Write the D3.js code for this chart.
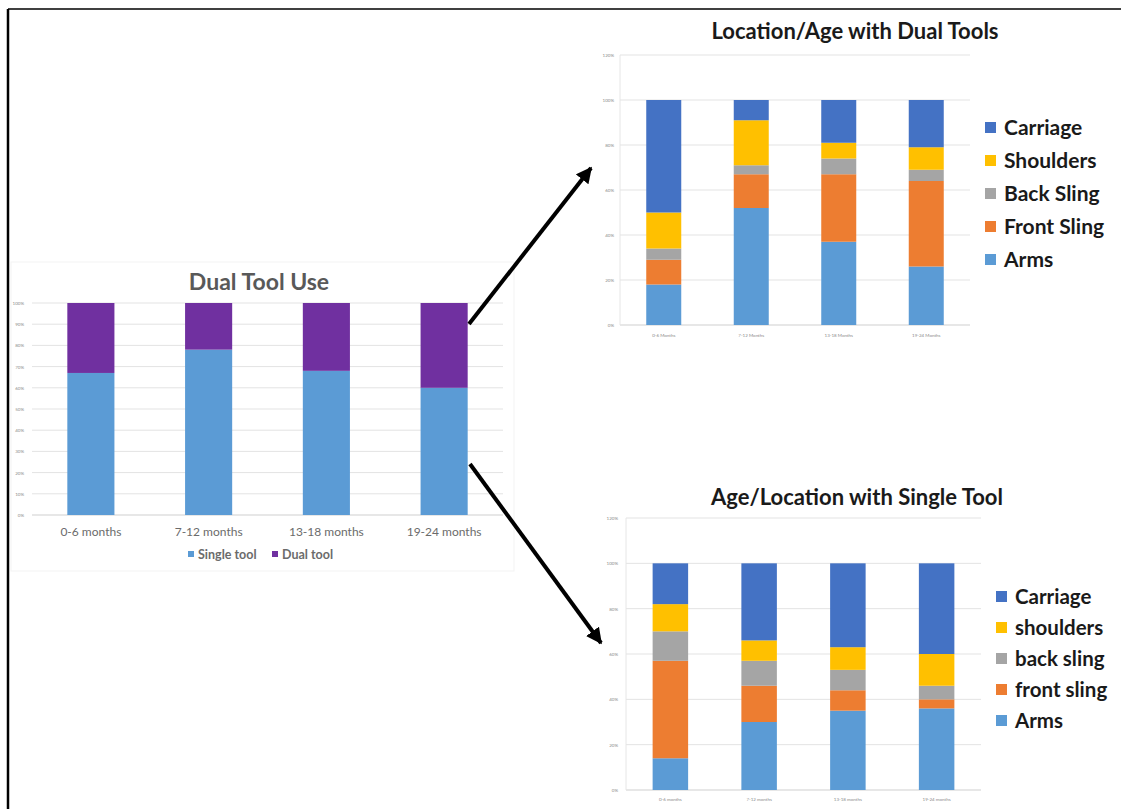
<!DOCTYPE html>
<html>
<head>
<meta charset="utf-8">
<script src="https://cdn.jsdelivr.net/npm/d3@7"></script>
<style>
  html, body { margin: 0; padding: 0; background: #fff; }
  svg { display: block; font-family: Lato, "Open Sans", sans-serif; }
</style>
</head>
<body>
<svg id="fig" width="1121" height="809"></svg>
<script>
// ---- Dual tool use by age ----
const ageGroups = ["0-6 months", "7-12 months", "13-18 months", "19-24 months"];
const singleToolShare = [67, 78, 68, 60];
const dualToolShare = [33, 22, 32, 40];
const dualUseTicks = [0, 10, 20, 30, 40, 50, 60, 70, 80, 90, 100];

// ---- Location by age, dual tools ----
const locationKeys = ["Arms", "Front Sling", "Back Sling", "Shoulders", "Carriage"];
const dualAgeLabels = ["0-6 Months", "7-12 Months", "13-18 Months", "19-24 Months"];
const dualArms = [18, 52, 37, 26];
const dualFrontSling = [11, 15, 30, 38];
const dualBackSling = [5, 4, 7, 5];
const dualShoulders = [16, 20, 7, 10];
const dualCarriage = [50, 9, 19, 21];
const dualLegendLabels = ["Carriage", "Shoulders", "Back Sling", "Front Sling", "Arms"];

// ---- Location by age, single tool ----
const singleAgeLabels = ["0-6 months", "7-12 months", "13-18 months", "19-24 months"];
const singleArms = [14, 30, 35, 36];
const singleFrontSling = [43, 16, 9, 4];
const singleBackSling = [13, 11, 9, 6];
const singleShoulders = [12, 9, 10, 14];
const singleCarriage = [18, 34, 37, 40];
const singleLegendLabels = ["Carriage", "shoulders", "back sling", "front sling", "Arms"];

const locationTicks = [0, 20, 40, 60, 80, 100, 120];

const locationColors = {
  "Arms": "#5B9BD5",
  "Front Sling": "#ED7D31",
  "Back Sling": "#A5A5A5",
  "Shoulders": "#FFC000",
  "Carriage": "#4472C4"
};

const svg = d3.select("#fig");

// page frame
svg.append("line").attr("x1", 8).attr("x2", 1121).attr("y1", 9).attr("y2", 9)
  .attr("stroke", "#000").attr("stroke-width", 1.5);
svg.append("line").attr("x1", 8).attr("x2", 8).attr("y1", 9).attr("y2", 809)
  .attr("stroke", "#000").attr("stroke-width", 2.5);

function buildRows(labels, cols) {
  return labels.map((lab, i) => {
    const row = { label: lab };
    locationKeys.forEach((k, j) => row[k] = cols[j][i]);
    return row;
  });
}

function stackedChart(opts) {
  const g = svg.append("g");
  const x = d3.scaleBand().domain(opts.labels).range([opts.left, opts.right]).paddingInner(opts.padIn).paddingOuter(opts.padOut);
  const y = d3.scaleLinear().domain([0, opts.max]).range([opts.bottom, opts.top]);

  // gridlines
  g.append("g").selectAll("line").data(opts.ticks).join("line")
    .attr("x1", opts.left).attr("x2", opts.gridRight)
    .attr("y1", d => y(d)).attr("y2", d => y(d))
    .attr("stroke", d => d === 0 ? "#cfcfcf" : "#e3e3e3").attr("stroke-width", 1);

  if (opts.vAxis) {
    g.append("line").attr("x1", opts.left).attr("x2", opts.left)
      .attr("y1", y(opts.max)).attr("y2", y(0)).attr("stroke", "#e6e6e6");
  }

  // tick labels
  const yAxis = d3.axisLeft(y).tickValues(opts.ticks).tickFormat(d => d + "%").tickSize(0).tickPadding(opts.tickPad);
  const ya = g.append("g").attr("transform", `translate(${opts.left},0)`).call(yAxis);
  ya.select(".domain").remove();
  ya.selectAll("text").attr("font-size", opts.tickFont).attr("fill", "#8a8a8a").attr("font-family", "Lato, sans-serif");

  // bars
  const stack = d3.stack().keys(opts.keys)(opts.rows);
  g.append("g").selectAll("g").data(stack).join("g")
    .attr("fill", d => opts.colors[d.key])
    .selectAll("rect").data(d => d).join("rect")
    .attr("x", d => x(d.data.label))
    .attr("width", x.bandwidth())
    .attr("y", d => y(d[1]))
    .attr("height", d => y(d[0]) - y(d[1]));

  // category labels
  const xAxis = d3.axisBottom(x).tickSize(0).tickPadding(opts.xPad);
  const xa = g.append("g").attr("transform", `translate(0,${opts.bottom})`).call(xAxis);
  xa.select(".domain").remove();
  xa.selectAll("text").attr("font-size", opts.xFont).attr("fill", opts.xColor).attr("font-family", "Lato, sans-serif");

  // title
  g.append("text").attr("x", opts.titleX).attr("y", opts.titleY)
    .attr("text-anchor", "middle").attr("font-size", opts.titleSize)
    .attr("font-family", opts.titleFont || "Lato, sans-serif")
    .attr("font-weight", "bold").attr("fill", opts.titleColor).text(opts.title);
  return { x, y };
}

// ---------- Left: Dual Tool Use ----------
svg.append("rect").attr("x", 11).attr("y", 262).attr("width", 503).attr("height", 309)
  .attr("fill", "#fff").attr("stroke", "#f3f3f3");

const dualRows = ageGroups.map((lab, i) => ({ label: lab, single: singleToolShare[i], dual: dualToolShare[i] }));
stackedChart({
  labels: ageGroups, rows: dualRows, keys: ["single", "dual"],
  colors: { single: "#5B9BD5", dual: "#7030A0" },
  left: 32, right: 503, gridRight: 503, top: 303, bottom: 515, max: 100,
  padIn: 0.6, padOut: 0.3, ticks: dualUseTicks, tickPad: 8, tickFont: 4.5,
  vAxis: false, xPad: 12, xFont: 12, xColor: "#6b6b6b",
  title: "Dual Tool Use", titleX: 259, titleY: 290, titleSize: 23, titleColor: "#595959"
});

// legend for dual tool use
const dualLegend = [{ name: "Single tool", color: "#5B9BD5", x: 188 }, { name: "Dual tool", color: "#7030A0", x: 272 }];
const dl = svg.append("g").selectAll("g").data(dualLegend).join("g")
  .attr("transform", d => `translate(${d.x},555)`);
dl.append("rect").attr("x", 0).attr("y", -4).attr("width", 6).attr("height", 6).attr("fill", d => d.color);
dl.append("text").attr("x", 10).attr("y", 3.5).attr("font-size", 12.5).attr("font-weight", "bold")
  .attr("fill", "#6b6b6b").text(d => d.name);

// ---------- Top right: Location/Age with Dual Tools ----------
stackedChart({
  labels: dualAgeLabels,
  rows: buildRows(dualAgeLabels, [dualArms, dualFrontSling, dualBackSling, dualShoulders, dualCarriage]),
  keys: locationKeys, colors: locationColors,
  left: 620, right: 970, gridRight: 970, top: 55, bottom: 325, max: 120,
  padIn: 0.6, padOut: 0.3, ticks: locationTicks, tickPad: 6, tickFont: 4.5,
  vAxis: true, xPad: 9, xFont: 4.5, xColor: "#8a8a8a",
  title: "Location/Age with Dual Tools", titleX: 855, titleY: 39, titleSize: 22, titleColor: "#1a1a1a"
});

// ---------- Bottom right: Age/Location with Single Tool ----------
stackedChart({
  labels: singleAgeLabels,
  rows: buildRows(singleAgeLabels, [singleArms, singleFrontSling, singleBackSling, singleShoulders, singleCarriage]),
  keys: locationKeys, colors: locationColors,
  left: 626, right: 981, gridRight: 981, top: 518, bottom: 790, max: 120,
  padIn: 0.6, padOut: 0.3, ticks: locationTicks, tickPad: 8, tickFont: 4.5,
  vAxis: true, xPad: 8, xFont: 4.5, xColor: "#8a8a8a",
  title: "Age/Location with Single Tool", titleX: 857, titleY: 505, titleSize: 22, titleColor: "#1a1a1a"
});

// legends for location charts
function locationLegend(labels, x0, y0, step, size) {
  const keyOrder = ["Carriage", "Shoulders", "Back Sling", "Front Sling", "Arms"];
  const g = svg.append("g").selectAll("g").data(labels).join("g")
    .attr("transform", (d, i) => `translate(${x0},${y0 + i * step})`);
  g.append("rect").attr("x", 0).attr("y", -6).attr("width", 11).attr("height", 11)
    .attr("fill", (d, i) => locationColors[keyOrder[i]]);
  g.append("text").attr("x", 19).attr("y", 0).attr("dy", "0.35em")
    .attr("font-size", size).attr("font-weight", "bold").attr("fill", "#1a1a1a").text(d => d);
}
locationLegend(dualLegendLabels, 985, 128, 33, 21);
locationLegend(singleLegendLabels, 996, 597, 31, 20.5);

// ---------- Arrows linking the charts ----------
const defs = svg.append("defs");
defs.append("marker").attr("id", "head").attr("viewBox", "0 0 10 10")
  .attr("refX", 9).attr("refY", 5).attr("markerWidth", 4).attr("markerHeight", 4)
  .attr("orient", "auto").attr("markerUnits", "strokeWidth")
  .append("path").attr("d", "M0,0 L10,5 L0,10 Z").attr("fill", "#000");

const arrows = [
  { x1: 469, y1: 324, x2: 591, y2: 168 },
  { x1: 470, y1: 464, x2: 601, y2: 643 }
];
svg.append("g").selectAll("line").data(arrows).join("line")
  .attr("x1", d => d.x1).attr("y1", d => d.y1).attr("x2", d => d.x2).attr("y2", d => d.y2)
  .attr("stroke", "#000").attr("stroke-width", 4).attr("marker-end", "url(#head)");
</script>
</body>
</html>
